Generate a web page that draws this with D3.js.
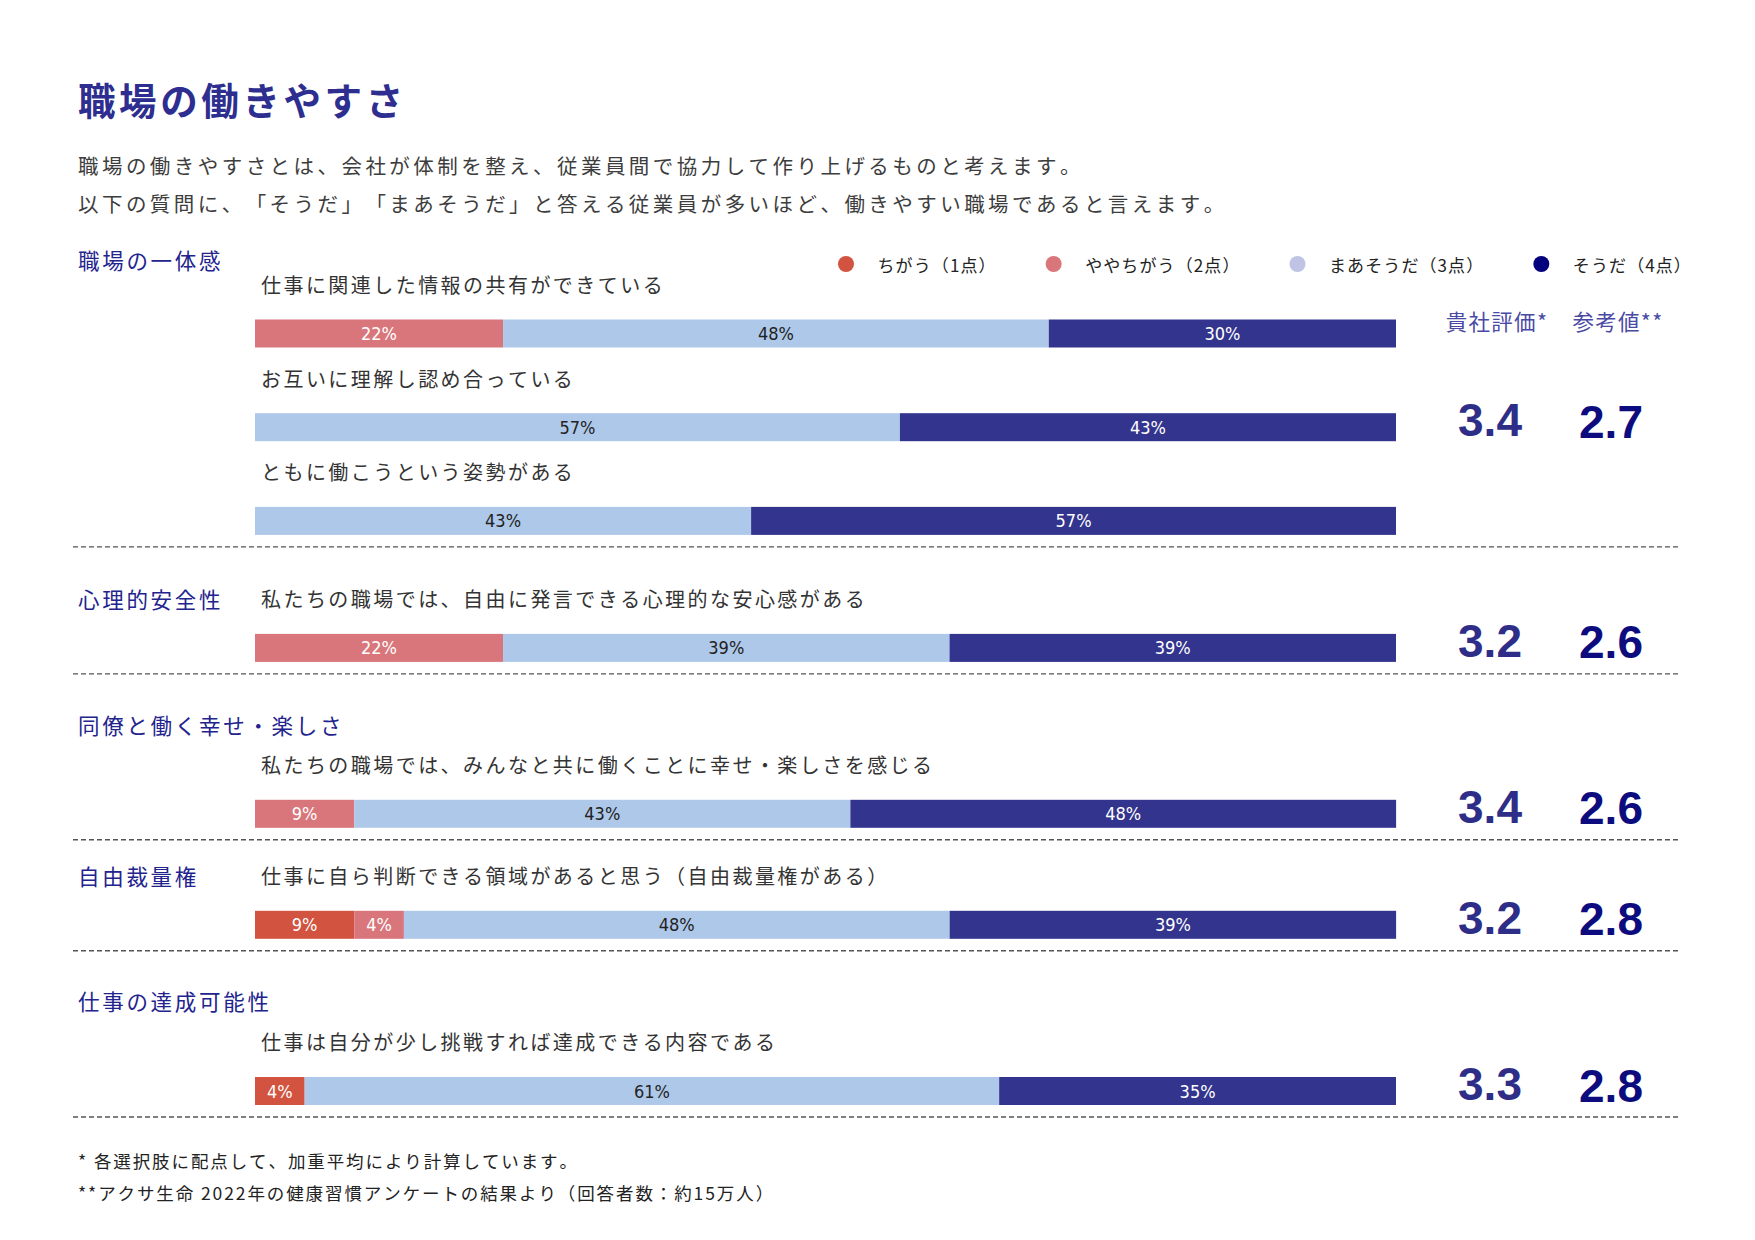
<!DOCTYPE html>
<html lang="ja">
<head>
<meta charset="utf-8">
<script src="https://cdn.jsdelivr.net/npm/d3@7"></script>
<style>
  html, body { margin: 0; padding: 0; background: #fff; }
  svg { display: block; }
  .jp { font-family: "Noto Sans CJK JP", "Noto Sans", sans-serif; text-spacing-trim: space-all; font-kerning: none; }
  .pct { font-family: "Liberation Sans Narrow", "DejaVu Sans Condensed", "Roboto", sans-serif; }
  .num { font-family: "Liberation Sans", Arial, sans-serif; font-weight: bold; }
</style>
</head>
<body>
<svg id="chart" width="1755" height="1240"></svg>
<script>
// ---------------- DATA ----------------
const title = "職場の働きやすさ";
const subtitleLines = [
  "職場の働きやすさとは、会社が体制を整え、従業員間で協力して作り上げるものと考えます。",
  "以下の質問に、「そうだ」「まあそうだ」と答える従業員が多いほど、働きやすい職場であると言えます。"
];
const sections = ["職場の一体感", "心理的安全性", "同僚と働く幸せ・楽しさ", "自由裁量権", "仕事の達成可能性"];
const questions = [
  "仕事に関連した情報の共有ができている",
  "お互いに理解し認め合っている",
  "ともに働こうという姿勢がある",
  "私たちの職場では、自由に発言できる心理的な安心感がある",
  "私たちの職場では、みんなと共に働くことに幸せ・楽しさを感じる",
  "仕事に自ら判断できる領域があると思う（自由裁量権がある）",
  "仕事は自分が少し挑戦すれば達成できる内容である"
];
const questionSection = [0, 0, 0, 1, 2, 3, 4];
const seriesNames = ["ちがう（1点）", "ややちがう（2点）", "まあそうだ（3点）", "そうだ（4点）"];
// shares (%); labels show them rounded
const chigau      = [0, 0, 0, 0, 0, 8.70, 4.35];
const yayaChigau  = [21.74, 0, 0, 21.74, 8.70, 4.35, 0];
const maaSouda    = [47.83, 56.52, 43.48, 39.13, 43.48, 47.83, 60.87];
const souda       = [30.43, 43.48, 56.52, 39.13, 47.83, 39.13, 34.78];
const companyScore   = [3.4, 3.2, 3.4, 3.2, 3.3];
const referenceScore = [2.7, 2.6, 2.6, 2.8, 2.8];
const scoreHeaders = ["貴社評価*", "参考値**"];
const footnotes = [
  "* 各選択肢に配点して、加重平均により計算しています。",
  "**アクサ生命 2022年の健康習慣アンケートの結果より（回答者数：約15万人）"
];

// ---------------- STYLE / LAYOUT ----------------
const barColors    = ["#d2533f", "#d9767b", "#aec8e9", "#33348d"];
const legendColors = ["#d2533f", "#d9767b", "#c0c3e3", "#00007f"];
const labelColors  = ["#ffffff", "#ffffff", "#222222", "#ffffff"];
const fmtPct = d3.format(".0f");

const svg = d3.select("#chart");
const x = d3.scaleLinear().domain([0, 100]).range([255, 1396]);
const barH = 28;
const leftX = 78;
const qX = 261;

const sectionLayout = [
  { top: 259.7, ownLine: true,  firstQGap: 24.6 },
  { gapTop: 51.8, ownLine: false },
  { gapTop: 50.4, ownLine: true, firstQGap: 40.3 },
  { gapTop: 35.8, ownLine: false },
  { gapTop: 49.5, ownLine: true, firstQGap: 41.5 }
];
const qToBar = 49.2;
const barToNextQ = 44.5;
const barToDivider = 26;

const rows = [];
const secPos = [];
let cursor = 0;
sections.forEach((s, si) => {
  const L = sectionLayout[si];
  const ly = si === 0 ? L.top : cursor + L.gapTop;
  let qy = L.ownLine ? ly + L.firstQGap : ly;
  const idx = questionSection.map((d, i) => d === si ? i : -1).filter(i => i >= 0);
  let lastBar = 0;
  idx.forEach((qi, k) => {
    if (k > 0) qy = lastBar + barToNextQ;
    const by = qy + qToBar;
    rows[qi] = { qy, by };
    lastBar = by;
  });
  const divider = lastBar + barToDivider;
  secPos[si] = { ly, divider, barMean: d3.mean(idx, i => rows[i].by) };
  cursor = divider;
});

// ---------------- TITLE ----------------
svg.append("text").attr("class", "jp")
  .attr("x", leftX).attr("y", 98)
  .attr("dominant-baseline", "central")
  .attr("font-size", 37.5).attr("font-weight", 700)
  .attr("letter-spacing", 3.6)
  .attr("fill", "#2d2e8f")
  .text(title);

svg.selectAll("text.sub").data(subtitleLines).join("text")
  .attr("class", "jp sub")
  .attr("x", leftX).attr("y", (d, i) => 164.5 + i * 38.1)
  .attr("dominant-baseline", "central")
  .attr("font-size", 20.5).attr("letter-spacing", 3.45)
  .attr("fill", "#3d3d3d")
  .text(d => d);

// ---------------- LEGEND ----------------
const legend = svg.append("g");
let lx = 846;
seriesNames.forEach((name, i) => {
  legend.append("circle").attr("cx", lx).attr("cy", 264).attr("r", 8).attr("fill", legendColors[i]);
  const t = legend.append("text").attr("class", "jp")
    .attr("x", lx + 31.5).attr("y", 264)
    .attr("dominant-baseline", "central")
    .attr("font-size", 17).attr("letter-spacing", 1.1)
    .attr("fill", "#222").text(name);
  const w = t.node().getComputedTextLength();
  lx = lx + 31.5 + w + 57;
});

// ---------------- SCORE HEADERS ----------------
svg.selectAll("text.hdr").data(scoreHeaders).join("text")
  .attr("class", "jp hdr")
  .attr("x", (d, i) => [1497, 1618][i]).attr("y", 320)
  .attr("text-anchor", "middle")
  .attr("dominant-baseline", "central")
  .attr("font-size", 21.5).attr("letter-spacing", 1.3)
  .attr("fill", "#4a4aa5")
  .text(d => d);

// ---------------- SECTIONS ----------------
svg.selectAll("text.sec").data(sections).join("text")
  .attr("class", "jp sec")
  .attr("x", leftX).attr("y", (d, i) => secPos[i].ly)
  .attr("dominant-baseline", "central")
  .attr("font-size", 21.5).attr("letter-spacing", 2.7)
  .attr("fill", "#23238e")
  .text(d => d);

svg.selectAll("line.div").data(sections).join("line")
  .attr("class", "div")
  .attr("x1", 73).attr("x2", 1679)
  .attr("y1", (d, i) => secPos[i].divider).attr("y2", (d, i) => secPos[i].divider)
  .attr("stroke", "#555").attr("stroke-width", 1.4)
  .attr("stroke-dasharray", "5,3");

// ---------------- QUESTIONS ----------------
svg.selectAll("text.q").data(questions).join("text")
  .attr("class", "jp q")
  .attr("x", qX).attr("y", (d, i) => rows[i].qy)
  .attr("dominant-baseline", "central")
  .attr("font-size", 20).attr("letter-spacing", 2.45)
  .attr("fill", "#333")
  .text(d => d);

// ---------------- BARS ----------------
const table = questions.map((q, i) => ({ q: i, values: [chigau[i], yayaChigau[i], maaSouda[i], souda[i]] }));
const stack = d3.stack().keys([0, 1, 2, 3]).value((d, k) => d.values[k]);
const stacked = stack(table);

const gBars = svg.append("g");
stacked.forEach((layer, k) => {
  const segs = layer.map((seg, i) => ({ x0: seg[0], x1: seg[1], i, v: table[i].values[k] })).filter(d => d.v > 0);
  gBars.selectAll(null).data(segs).join("rect")
    .attr("x", d => x(d.x0))
    .attr("width", d => x(d.x1) - x(d.x0))
    .attr("y", d => rows[d.i].by - barH / 2)
    .attr("height", barH)
    .attr("fill", barColors[k]);
  gBars.selectAll(null).data(segs).join("text")
    .attr("class", "pct")
    .attr("x", d => (x(d.x0) + x(d.x1)) / 2)
    .attr("y", d => rows[d.i].by)
    .attr("text-anchor", "middle")
    .attr("dominant-baseline", "central")
    .attr("font-size", 18)
    .attr("fill", labelColors[k])
    .text(d => fmtPct(d.v) + "%");
});

// ---------------- SCORES ----------------
svg.selectAll("text.cs").data(companyScore).join("text")
  .attr("class", "num cs")
  .attr("x", 1490).attr("y", (d, i) => secPos[i].barMean - 7)
  .attr("text-anchor", "middle").attr("dominant-baseline", "central")
  .attr("font-size", 46).attr("fill", "#2e2e88")
  .text(d => d.toFixed(1));
svg.selectAll("text.rs").data(referenceScore).join("text")
  .attr("class", "num rs")
  .attr("x", 1611).attr("y", (d, i) => secPos[i].barMean - 5.5)
  .attr("text-anchor", "middle").attr("dominant-baseline", "central")
  .attr("font-size", 46).attr("fill", "#0c0c7e")
  .text(d => d.toFixed(1));

// ---------------- FOOTNOTES ----------------
svg.selectAll("text.fn").data(footnotes).join("text")
  .attr("class", "jp fn")
  .attr("x", leftX).attr("y", (d, i) => 1160.7 + i * 31.3)
  .attr("dominant-baseline", "central")
  .attr("font-size", 17.5).attr("letter-spacing", 1.9)
  .attr("fill", "#222")
  .text(d => d);
</script>
</body>
</html>
